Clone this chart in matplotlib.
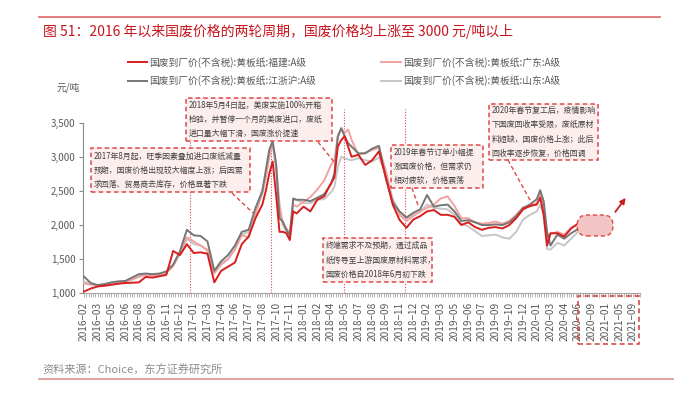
import matplotlib
matplotlib.use('Agg')
import matplotlib.pyplot as plt
from matplotlib.patches import Rectangle, FancyBboxPatch
from matplotlib.lines import Line2D
from matplotlib.ticker import FuncFormatter, MultipleLocator

plt.rcParams['font.family'] = ['Noto Sans CJK SC', 'DejaVu Sans']

# 横轴标签（等距类别）
tick_labels = ['2016–02', '2016–03', '2016–05', '2016–06', '2016–08', '2016–09', '2016–11', '2016–12',
               '2017–01', '2017–03', '2017–04', '2017–06', '2017–07', '2017–08', '2017–10', '2017–11',
               '2018–01', '2018–02', '2018–04', '2018–05', '2018–07', '2018–08', '2018–09', '2018–11',
               '2018–12', '2019–02', '2019–03', '2019–05', '2019–06', '2019–07', '2019–09', '2019–10',
               '2019–12', '2020–01', '2020–03', '2020–04', '2020–06', '2020–09', '2021–01', '2021–05',
               '2021–09']

# 数据点在类别轴上的位置
pos = [0, 0.5, 1, 1.5, 2, 2.5, 3, 3.5, 4, 4.5, 5, 5.5, 6, 6.5, 7, 7.5, 8, 8.5, 9, 9.5, 10, 10.5,
       11, 11.5, 12, 12.5, 13, 13.25, 13.5, 13.75, 14, 14.25, 14.5, 14.75, 15, 15.25, 15.5,
       16, 16.5, 17, 17.5, 18, 18.25, 18.5, 18.75, 19, 19.25, 19.5,
       20, 20.5, 21, 21.5, 22, 22.5, 23, 23.5, 24, 24.5, 25, 25.5, 26, 26.5, 27, 27.5, 28, 28.5,
       29, 29.5, 30, 30.5, 31, 31.5, 32, 32.5, 33, 33.25, 33.5, 33.75, 34, 34.5, 35, 35.5, 36]

fujian = [1025, 1070, 1100, 1110, 1125, 1140, 1150, 1155, 1160, 1240, 1230, 1250, 1270, 1620, 1560,
          1720, 1590, 1600, 1580, 1160, 1330, 1390, 1450, 1720, 1830, 2100, 2300, 2500, 2750, 2930,
          2450, 1900, 1900, 1880, 1780, 2200, 2170, 2270, 2200, 2370, 2420, 2610, 2700, 3150, 3245,
          3300, 3150, 3000, 3030, 2880, 2950, 3080, 2700, 2300, 2075, 1960, 2080, 2130, 2200, 2220,
          2150, 2150, 2120, 2000, 2040, 1970, 1930, 1960, 1970, 1950, 2000, 2100, 2230, 2280, 2300,
          2400, 2150, 1700, 1880, 1880, 1830, 1950, 2020]

guangdong = [1145, 1125, 1120, 1130, 1145, 1160, 1170, 1200, 1240, 1270, 1260, 1270, 1300, 1400, 1600,
             1820, 1760, 1700, 1640, 1300, 1420, 1500, 1640, 1850, 1820, 2150, 2500, 2700, 3000, 3200,
             2900, 2300, 2000, 1950, 1880, 2300, 2270, 2340, 2410, 2520, 2650, 2880, 2950, 3300, 3400,
             3350, 3400, 3250, 3030, 3060, 3100, 3130, 2800, 2350, 2150, 2060, 2130, 2200, 2250, 2300,
             2390, 2420, 2280, 2100, 2100, 2040, 2020, 2030, 2050, 2020, 2060, 2150, 2260, 2270, 2320,
             2450, 2250, 1800, 1870, 1900, 1860, 1960, 2010]

jiangzhehu = [1245, 1150, 1120, 1135, 1160, 1175, 1180, 1230, 1280, 1290, 1280, 1290, 1320, 1420, 1620,
              1930, 1850, 1840, 1760, 1330, 1470, 1560, 1700, 1900, 1930, 2250, 2500, 2800, 3100, 3230,
              2900, 2100, 2050, 1930, 1850, 2390, 2370, 2370, 2350, 2400, 2450, 2600, 2750, 3300, 3420,
              3300, 3200, 3150, 3050, 3050, 3120, 3160, 2680, 2330, 2200, 2110, 2180, 2230, 2440, 2270,
              2290, 2300, 2200, 2060, 2070, 2040, 2000, 2000, 2010, 2000, 2040, 2130, 2250, 2300, 2380,
              2510, 2350, 1900, 1700, 1860, 1800, 1880, 1940]

shandong = [1170, 1140, 1120, 1125, 1150, 1165, 1170, 1200, 1250, 1280, 1270, 1280, 1300, 1400, 1580,
            1800, 1720, 1700, 1620, 1290, 1440, 1500, 1650, 1860, 1900, 2200, 2450, 2700, 3000, 3180,
            2800, 2200, 2000, 1900, 1800, 2370, 2370, 2320, 2320, 2370, 2380, 2480, 2560, 2850, 3000,
            2980, 2960, 2950, 2980, 2950, 2930, 2990, 2750, 2380, 2190, 2100, 2150, 2190, 2300, 2250,
            2240, 2230, 2150, 2020, 1980, 1910, 1840, 1850, 1860, 1820, 1800, 1900, 2080, 2150, 2200,
            2300, 2150, 1650, 1640, 1740, 1700, 1800, 1900]

names = ['国废到厂价(不含税):黄板纸:福建:A级', '国废到厂价(不含税):黄板纸:江浙沪:A级',
         '国废到厂价(不含税):黄板纸:广东:A级', '国废到厂价(不含税):黄板纸:山东:A级']

RED = '#d81e1e'
BOX_RED = '#e04848'
GREY_TXT = '#595959'

W, H = 674, 394
fig = plt.figure(figsize=(W / 100, H / 100), dpi=100)
ax = fig.add_axes([82.6 / W, 1 - 293.3 / H, 557.1 / W, 197.95 / H])

l4, = ax.plot(pos, shandong, color='#c6c6c6', lw=1.4, zorder=3)
l3, = ax.plot(pos, guangdong, color='#f2a2a2', lw=1.4, zorder=3)
l2, = ax.plot(pos, jiangzhehu, color='#767676', lw=1.4, zorder=3)
l1, = ax.plot(pos, fujian, color=RED, lw=1.4, zorder=4)

ax.set_xlim(-0.1, 40.5)
ax.set_ylim(1000, 3900)
for s in ['top', 'right']:
    ax.spines[s].set_visible(False)
ax.spines['left'].set_bounds(1000, 3500)
ax.spines['left'].set_color('#8c8c8c')
ax.spines['bottom'].set_color('#a6a6a6')

ax.set_yticks([1000, 1500, 2000, 2500, 3000, 3500])
ax.yaxis.set_major_formatter(FuncFormatter(lambda v, p: f'{v:,.0f}'))
ax.tick_params(axis='y', length=3, color='#8c8c8c', labelsize=7, labelcolor=GREY_TXT, pad=2)

ax.set_xticks(range(len(tick_labels)))
ax.set_xticklabels(tick_labels, rotation=90)
ax.xaxis.set_minor_locator(MultipleLocator(1 / 6))
ax.tick_params(axis='x', which='both', length=3, width=0.6, color='#a6a6a6',
               labelsize=7.3, labelcolor=GREY_TXT, pad=3)

# 竖向虚线
for xv, top in [(7.73, 3231), (13.63, 3231), (18.95, 3700), (23.4, 3700)]:
    ax.plot([xv, xv], [1000, top], color=BOX_RED, lw=0.8, ls=(0, (1, 1.5)), zorder=2)


def note(x0, y0, x1, y1, text):
    ax.add_patch(Rectangle((x0, y0), x1 - x0, y1 - y0, fc='#fdeeee', ec=BOX_RED,
                           lw=1.1, ls=(0, (3, 2)), zorder=5))
    ax.text(x0 + 0.2, (y0 + y1) / 2, text, ha='left', va='center', fontsize=5.7,
            linespacing=1.75, color='#404040', zorder=6)


def leader(xa, ya, xb, yb):
    ax.plot([xa, xb], [ya, yb], color=BOX_RED, lw=1, ls=(0, (3, 2)), zorder=5)


note(0.51, 2484, 12.1, 3129, '2017年8月起，旺季因素叠加进口废纸减量\n预期，国废价格出现较大幅度上涨；后因需\n求回落、贸易商去库存，价格显著下跌')
note(7.43, 3231, 18.08, 3861, '2018年5月4日起，美废实施100%开箱\n检验，并暂停一个月的美废进口，废纸\n进口量大幅下滑，国废涨价提速')
note(22.38, 2543, 29.08, 3172, '2019年春节订单小幅提\n涨国废价格，但需求仍\n相对疲软，价格震荡')
note(17.42, 1166, 25.36, 1810, '终端需求不及预期，通过成品\n纸传导至上游国废原材料需求，\n国废价格自2018年6月初下跌')
note(29.52, 2953, 37.46, 3773, '2020年春节复工后，疫情影响\n下国废回收率受限，废纸原材\n料短缺，国废价格上涨；此后\n回收率逐步恢复，价格回调')

leader(10.79, 2469, 12.32, 2176)
leader(17.06, 3216, 18.29, 2909)
leader(23.9, 2543, 24.34, 2294)
leader(30.9, 2953, 32.7, 2294)

# 后续走势示意
ax.add_patch(FancyBboxPatch((35.95, 1840), 2.6, 307, boxstyle='round,pad=0,rounding_size=0.7',
                            mutation_aspect=201, fc='#f2c4c4', ec=BOX_RED, lw=1, ls=(0, (3, 2)),
                            zorder=5))
ax.annotate('', xy=(39.6, 2430), xytext=(38.6, 2160),
            arrowprops=dict(arrowstyle='-|>', color='#c81e1e', lw=1.3, mutation_scale=8), zorder=6)

# 未来月份标签外框
fig.add_artist(Rectangle((578 / W, 1 - 344 / H), 61 / W, 48 / H, transform=fig.transFigure,
                         fill=False, ec=BOX_RED, lw=1.2, ls=(0, (3, 2))))

ax.legend([l1, l2, l3, l4], names, ncol=2, frameon=False, fontsize=7, loc='upper left',
          bbox_to_anchor=(128 / W, 1 - 57 / H), bbox_transform=fig.transFigure,
          handlelength=2.0, handletextpad=0.2, columnspacing=6.7, labelspacing=0.75,
          borderpad=0, borderaxespad=0, labelcolor=GREY_TXT)

fig.text(57 / W, 1 - 88 / H, '元/吨', fontsize=7, color=GREY_TXT, va='center')
fig.text(43 / W, 1 - 31 / H, '图 51：2016 年以来国废价格的两轮周期，国废价格均上涨至 3000 元/吨以上',
         fontsize=10, color='#c8141e', va='center')
fig.text(42 / W, 1 - 370 / H, '资料来源：Choice，东方证券研究所', fontsize=8, color='#8c8c8c', va='center')
fig.add_artist(Line2D([39 / W, 660 / W], [1 - 17 / H, 1 - 17 / H], color='#e06666', lw=1.2))
fig.add_artist(Line2D([39 / W, 1], [1 - 379 / H, 1 - 379 / H], color='#d99594', lw=1.2))

fig.savefig('out.png', dpi=100)
